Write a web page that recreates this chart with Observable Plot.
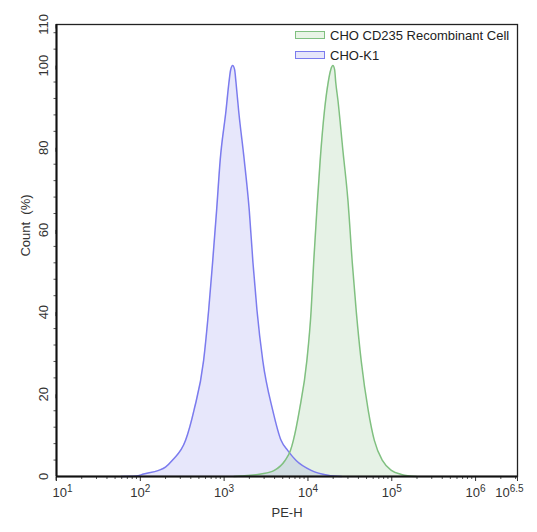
<!DOCTYPE html>
<html><head><meta charset="utf-8">
<script src="https://cdn.jsdelivr.net/npm/d3@7"></script>
<script src="https://cdn.jsdelivr.net/npm/@observablehq/plot@0.6"></script>
<style>
body{margin:0;background:#fff;}
#wrap{position:relative;width:537px;height:532px;font-family:"Liberation Sans",Arial,sans-serif;}
.legend{position:absolute;left:295px;top:25px;font-size:13px;color:#222;}
.row{display:flex;align-items:center;height:20px;white-space:nowrap;}
.sw{width:28px;height:6px;margin-right:5px;border:1px solid;}
</style></head><body><div id="wrap"></div>
<script>
const seriesNames = ["CHO CD235 Recombinant Cell", "CHO-K1"];
// CHO-K1 (blue): log10(PE-H) and Count (%)
const blueLogPE = [1.77,1.95,2.04,2.22,2.30,2.38,2.54,2.64,2.755,2.815,2.862,2.91,2.953,3.022,3.058,3.078,3.102,3.125,3.141,3.173,3.24,3.30,3.344,3.392,3.461,3.58,3.679,3.76,3.859,4.038,4.238,4.40];
const blueCount = [0,0.1,0.6,1.5,2.3,3.9,8.8,16.1,28.2,40.4,52,64.7,77,89,96,99,100,99,96,89,77,64.7,52,40.4,28.2,16.1,8.8,6.3,3.9,1.5,0.3,0];
// CHO CD235 Recombinant Cell (green)
const greenLogPE = [3.117,3.20,3.44,3.599,3.727,3.791,3.826,3.898,3.987,4.038,4.068,4.106,4.146,4.197,4.242,4.272,4.298,4.318,4.331,4.358,4.417,4.477,4.529,4.577,4.636,4.72,4.792,4.888,4.995,5.115,5.294];
const greenCount = [0,0.1,0.6,1.5,3.9,6.3,8.8,16.1,28.2,40.4,52,64.7,77,89,96,99,100,99,96,91.5,79.3,67.2,52,40,28,16,8.8,3.9,1.5,0.5,0];
const xMajorExp = [1,2,3,4,5,6,6.5];
const xTickLabels = ["1","2","3","4","5","6","6.5"];
const yMajorTicks = [0,20,40,60,80,100,110];
const yMinorTicks = [4,8,12,16,24,28,32,36,44,48,52,56,64,68,72,76,84,88,92,96,104,108];

const blue = blueLogPE.map((e,i)=>({pe:10**e,count:blueCount[i]}));
const green = greenLogPE.map((e,i)=>({pe:10**e,count:greenCount[i]}));
const xMax = 10**6.5;
const xMajor = xMajorExp.map(e=>Math.min(10**e, xMax*0.99999));
const xLabelData = xMajor.map((v,i)=>({pe:v, exp:xTickLabels[i]}));
const xMinor = [];
for (let d=1; d<=6; d++) for (let m=2; m<=9; m++) { const v=m*10**d; if (v<=xMax) xMinor.push(v); }

const font = '"Liberation Sans", Arial, sans-serif';
const plot = Plot.plot({
  width:537, height:532, marginLeft:56, marginRight:20, marginTop:24, marginBottom:56,
  style:{fontFamily:font, fontSize:"13px", color:"#333", background:"#fff"},
  x:{type:"log", domain:[10, xMax], label:null},
  y:{domain:[0,110], label:null},
  marks:[
    Plot.areaY(blue,{x:"pe",y:"count",fill:"#6e6ee8",fillOpacity:0.17,curve:"monotone-x"}),
    Plot.areaY(green,{x:"pe",y:"count",fill:"#5aa85a",fillOpacity:0.15,curve:"monotone-x"}),
    Plot.lineY(blue,{x:"pe",y:"count",stroke:"#7b7bee",strokeWidth:1.5,curve:"monotone-x"}),
    Plot.lineY(green,{x:"pe",y:"count",stroke:"#80c080",strokeWidth:1.5,curve:"monotone-x"}),
    Plot.axisX({ticks:xMinor, tickSize:3, tickFormat:()=>"", label:null, stroke:"#555"}),
    Plot.axisX({ticks:xMajor, tickSize:5, tickFormat:()=>"", label:null, stroke:"#333"}),
    Plot.text(xLabelData,{x:"pe", text:d=>"10^"+d.exp, frameAnchor:"bottom", dy:11, lineAnchor:"top", textAnchor:"middle", fill:"#333", className:"xlab"}),
    Plot.axisY({ticks:yMinorTicks, tickSize:2.5, tickFormat:()=>"", label:null, stroke:"#555"}),
    Plot.axisY({ticks:yMajorTicks, tickSize:4, tickPadding:5, rotate:-90, textAnchor:"middle", lineAnchor:"bottom", label:null, stroke:"#333", fill:"#333"}),
    Plot.frame({stroke:"#222", strokeWidth:1.3}),
    Plot.ruleX([10],{stroke:"#111", strokeWidth:2}),
    Plot.ruleY([0],{stroke:"#111", strokeWidth:2}),
    Plot.text(["Count\u00a0 (%)"],{frameAnchor:"left", rotate:-90, dx:-31, dy:-25, textAnchor:"middle", lineAnchor:"middle", fill:"#333"}),
    Plot.text(["PE-H"],{frameAnchor:"bottom", dy:36, textAnchor:"middle", lineAnchor:"middle", fill:"#333"})
  ]
});
// superscripts on x tick labels
plot.querySelectorAll("text").forEach(t=>{
  const s = t.textContent;
  const m = /^10\^([\d.]+)$/.exec(s);
  if (!m) return;
  while (t.firstChild) t.removeChild(t.firstChild);
  t.appendChild(document.createTextNode("10"));
  const sup = document.createElementNS("http://www.w3.org/2000/svg","tspan");
  sup.setAttribute("dy","-0.45em");
  sup.setAttribute("font-size","10px");
  sup.textContent = m[1];
  t.appendChild(sup);
  if (m[1]==="1") t.setAttribute("dx","6");
  if (m[1]==="6.5") t.setAttribute("dx","-8");
});
const wrap = document.getElementById("wrap");
wrap.appendChild(plot);
const legend = document.createElement("div");
legend.className = "legend";
const sw = [["#e8f4e6","#80c080"],["#e6e6fa","#7b7bee"]];
seriesNames.forEach((n,i)=>{
  const r = document.createElement("div"); r.className="row";
  const b = document.createElement("div"); b.className="sw";
  b.style.background = sw[i][0]; b.style.borderColor = sw[i][1];
  const tx = document.createElement("span"); tx.textContent = n;
  r.appendChild(b); r.appendChild(tx); legend.appendChild(r);
});
wrap.appendChild(legend);
</script></body></html>
